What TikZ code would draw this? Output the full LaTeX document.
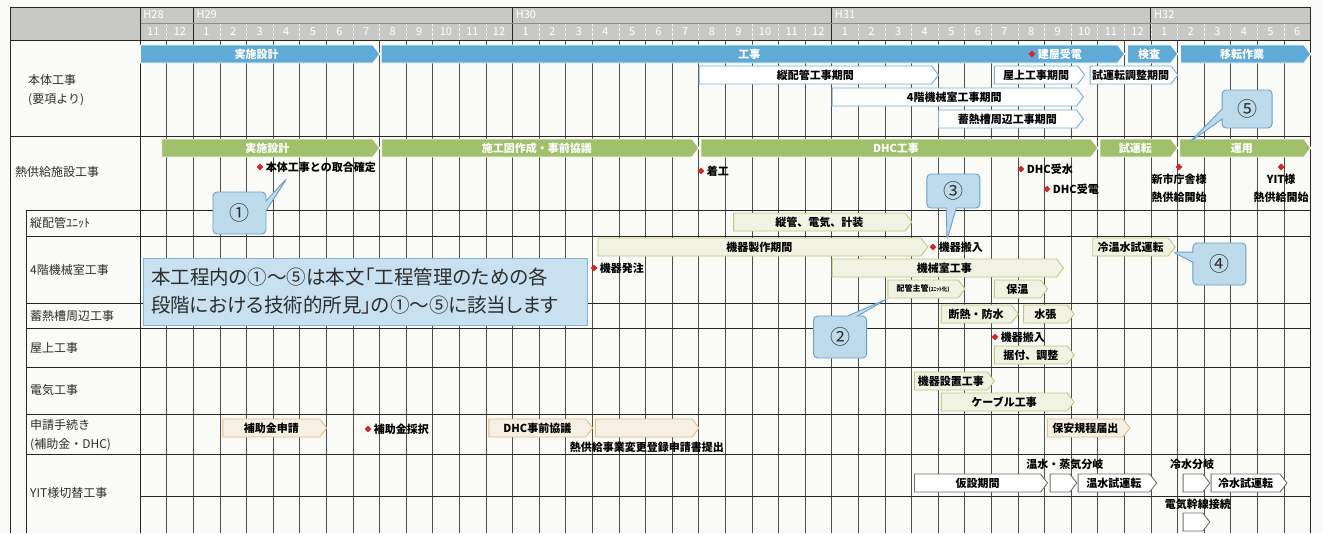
\documentclass[tikz,border=0pt]{standalone}
\usepackage{fontspec}
\setmainfont{Noto Sans CJK JP}
\usetikzlibrary{shapes.symbols,shapes.geometric,shapes.callouts,positioning}

\definecolor{paper}{RGB}{250,250,247}
\definecolor{headgray}{RGB}{200,200,198}
\definecolor{hontaiblue}{RGB}{96,170,215}
\definecolor{outblue}{RGB}{120,175,215}
\definecolor{netsugreen}{RGB}{160,192,108}
\definecolor{palegreen}{RGB}{242,242,226}
\definecolor{edgegreen}{RGB}{188,202,128}
\definecolor{paleorange}{RGB}{246,240,228}
\definecolor{edgeorange}{RGB}{226,188,128}
\definecolor{edgegray}{RGB}{110,110,110}
\definecolor{msred}{RGB}{210,40,40}
\definecolor{calloutfill}{RGB}{190,219,235}
\definecolor{calloutedge}{RGB}{105,160,200}
\definecolor{notefill}{RGB}{200,224,240}
\definecolor{textgray}{RGB}{45,45,45}

\tikzset{
  bar/.style={signal, signal to=east, signal pointer angle=105,
    minimum height=18pt, inner sep=0pt, line width=0.9pt,
    font=\fontsize{11}{11}\selectfont\bfseries},
  bluebar/.style={bar, fill=hontaiblue, draw=white, text=white},
  blueline/.style={bar, fill=white, draw=outblue, text=black},
  greenbar/.style={bar, fill=netsugreen, draw=white, text=white},
  greenline/.style={bar, fill=palegreen, draw=edgegreen, text=black},
  orangeline/.style={bar, fill=paleorange, draw=edgeorange, text=black},
  grayline/.style={bar, fill=white, draw=edgegray, text=black},
  milestone/.style={diamond, fill=msred, inner sep=0pt, minimum size=7pt},
  mstext/.style={font=\fontsize{11}{11}\selectfont\bfseries, inner sep=1pt},
  rowlabel/.style={anchor=west, align=left, font=\fontsize{12}{19}\selectfont,
    text=textgray, inner sep=0pt},
  headlabel/.style={text=white, font=\fontsize{11}{11}\selectfont, inner sep=0pt},
  gridline/.style={black!70, line width=0.5pt},
  rowline/.style={black!85, line width=0.9pt},
  callnum/.style={rectangle callout, rounded corners=4pt, fill=calloutfill,
    draw=calloutedge, line width=0.9pt, minimum width=53pt, minimum height=42pt,
    callout pointer width=10pt, font=\fontsize{20}{20}\selectfont, text=textgray},
  notebox/.style={rectangle, fill=notefill, draw=calloutedge!80, line width=1pt,
    minimum width=444pt, minimum height=67pt, align=left, text width=428pt,
    font=\fontsize{19.5}{28}\selectfont\addfontfeatures{RawFeature=+palt},
    text=textgray},
}

% name, style, first column, last column, row y, text
\newcommand{\taskbar}[6]{%
  \node[#2, anchor=west, minimum width={(#4-#3)*26.6pt}] (#1) at (#3,#5) {#6};}

\begin{document}
\begin{tikzpicture}[x=26.6pt, y=-1pt]
  \fill[paper] (-5.263,0) rectangle (44.474,533);
  \useasboundingbox (-5.263,0) rectangle (44.474,533);

  % header
  \fill[headgray] (-4.887,7) rectangle (44,40);
  \foreach \i in {1,...,43}
    \draw[white, densely dashed, line width=0.5pt] (\i,23) -- (\i,40);
  \foreach \i in {0,...,43}{
    \pgfmathtruncatemacro\mon{mod(\i+10,12)+1}
    \node[headlabel] (mon\i) at (\i+0.5,32) {\mon};
  }
  \foreach \yr/\col in {H28/0,H29/2,H30/14,H31/26,H32/38}
    \node[headlabel, anchor=west] (\yr) at (\col+0.12,15) {\yr};

  % grid
  \foreach \i in {1,...,43}
    \draw[gridline] (\i,40) -- (\i,533);
  \foreach \i in {2,14,26,38}
    \draw[rowline] (\i,7) -- (\i,40);
  \draw[black!45] (0,23) -- (44,23);
  \foreach \y in {7,40,136}
    \draw[rowline] (-4.887,\y) -- (44,\y);
  \foreach \y in {210,236,303,328,367,414,454}
    \draw[rowline] (-4.286,\y) -- (44,\y);
  \draw[rowline] (0,496) -- (44,496);
  \draw[rowline] (-4.887,7) -- (-4.887,533);
  \draw[rowline] (-4.286,210) -- (-4.286,533);
  \draw[rowline] (0,7) -- (0,533);
  \draw[rowline] (44,7) -- (44,533);

  % row labels
  \node[rowlabel] (r1) at (-4.21,90) {本体工事\\(要項より)};
  \node[rowlabel] (r2) at (-4.70,172) {熱供給施設工事};
  \node[rowlabel] (r3) at (-4.135,223) {縦配管ﾕﾆｯﾄ};
  \node[rowlabel] (r4) at (-4.135,270) {4階機械室工事};
  \node[rowlabel] (r5) at (-4.135,316) {蓄熱槽周辺工事};
  \node[rowlabel] (r6) at (-4.135,348) {屋上工事};
  \node[rowlabel] (r7) at (-4.135,390) {電気工事};
  \node[rowlabel] (r8) at (-4.135,435) {申請手続き\\(補助金・DHC)};
  \node[rowlabel] (r9) at (-4.135,493) {YIT様切替工事};

  % 本体工事
  \taskbar{b1}{bluebar}{0}{9}{54}{実施設計}
  \taskbar{b2}{bluebar}{9.05}{37}{54}{工事}
  \taskbar{b3}{bluebar}{37.1}{39}{54}{検査}
  \taskbar{b4}{bluebar}{39.1}{44}{54}{移転作業}
  \taskbar{o1}{blueline}{21}{30}{75}{縦配管工事期間}
  \taskbar{o2}{blueline}{32.1}{35.5}{75}{屋上工事期間}
  \taskbar{o3}{blueline}{35.7}{39}{75}{試運転調整期間}
  \taskbar{o4}{blueline}{26}{35.45}{97}{4階機械室工事期間}
  \taskbar{o5}{blueline}{30}{35.45}{119}{蓄熱槽周辺工事期間}
  \node[milestone] (ms0) at (33.53,54) {};
  \node[mstext, text=white, right=1pt of ms0] (ms0t) {建屋受電};

  % 熱供給施設工事
  \taskbar{g1}{greenbar}{0.8}{9}{148}{実施設計}
  \taskbar{g2}{greenbar}{9.07}{21}{148}{施工図作成・事前協議}
  \taskbar{g3}{greenbar}{21.07}{36}{148}{DHC工事}
  \taskbar{g4}{greenbar}{36.07}{39}{148}{試運転}
  \taskbar{g5}{greenbar}{39.07}{44}{148}{運用}
  \node[milestone] (ms1) at (4.51,167) {};
  \node[mstext, right=1pt of ms1] (ms1t) {本体工事との取合確定};
  \node[milestone] (ms2) at (21.09,171) {};
  \node[mstext, right=1pt of ms2] (ms2t) {着工};
  \node[milestone] (ms3) at (33.12,169) {};
  \node[mstext, right=1pt of ms3] (ms3t) {DHC受水};
  \node[milestone] (ms4) at (34.1,189) {};
  \node[mstext, right=1pt of ms4] (ms4t) {DHC受電};
  \node[milestone] (ms5) at (39.06,167) {};
  \node[mstext, align=center, font=\fontsize{11}{18}\selectfont\bfseries,
    below=2pt of ms5] (ms5t) {新市庁舎様\\熱供給開始};
  \node[milestone] (ms6) at (42.9,167) {};
  \node[mstext, align=center, font=\fontsize{11}{18}\selectfont\bfseries,
    below=2pt of ms6] (ms6t) {YIT様\\熱供給開始};

  % 縦配管ユニット, 4階機械室工事
  \taskbar{l1}{greenline}{22.3}{29}{222}{縦管、電気、計装}
  \taskbar{l2}{greenline}{17.2}{29.6}{247}{機器製作期間}
  \taskbar{l3}{greenline}{35.8}{38.9}{247}{冷温水試運転}
  \taskbar{l4}{greenline}{26}{34.7}{268}{機械室工事}
  \taskbar{l5}{greenline}{28.1}{31}{289}{\fontsize{8}{8}\selectfont 配管主管\fontsize{5.5}{6}\selectfont(ﾕﾆｯﾄ化)}
  \taskbar{l6}{greenline}{32.1}{34.1}{289}{保温}
  \node[milestone] (ms7) at (29.81,247) {};
  \node[mstext, right=1pt of ms7] (ms7t) {機器搬入};
  \node[milestone] (ms8) at (17.07,268) {};
  \node[mstext, right=1pt of ms8] (ms8t) {機器発注};

  % 蓄熱槽周辺工事, 屋上工事, 電気工事
  \taskbar{l7}{greenline}{30.1}{33}{314}{断熱・防水}
  \taskbar{l8}{greenline}{33.2}{35.1}{314}{水張}
  \node[milestone] (ms9) at (32.14,337) {};
  \node[mstext, right=1pt of ms9] (ms9t) {機器搬入};
  \taskbar{l9}{greenline}{32.1}{35.1}{355}{据付、調整}
  \taskbar{l10}{greenline}{29.1}{32.1}{381}{機器設置工事}
  \taskbar{l11}{greenline}{30.1}{35.1}{402}{ケーブル工事}

  % 申請手続き
  \taskbar{p1}{orangeline}{3.1}{7}{428}{補助金申請}
  \taskbar{p2}{orangeline}{13.1}{17}{428}{DHC事前協議}
  \taskbar{p3}{orangeline}{17.1}{21}{428}{}
  \taskbar{p4}{orangeline}{34.1}{37.2}{428}{保安規程届出}
  \node[milestone] (ms10) at (8.57,429) {};
  \node[mstext, right=1pt of ms10] (ms10t) {補助金採択};
  \node[mstext] (p3t) at (19.06,447) {熱供給事業変更登録申請書提出};

  % YIT様切替工事
  \taskbar{y1}{grayline}{29.1}{34.1}{483}{仮設期間}
  \taskbar{y2}{grayline}{34.2}{35.2}{483}{}
  \taskbar{y3}{grayline}{35.25}{38.2}{483}{温水試運転}
  \taskbar{y4}{grayline}{39.2}{40.2}{483}{}
  \taskbar{y5}{grayline}{40.25}{43.1}{483}{冷水試運転}
  \taskbar{y6}{grayline}{39.2}{40.2}{522}{}
  \node[mstext] (y2t) at (34.77,464) {温水・蒸気分岐};
  \node[mstext] (y4t) at (39.55,464) {冷水分岐};
  \node[mstext] (y6t) at (39.77,504) {電気幹線接続};

  % callouts
  \coordinate (tip1) at (5.53,178);
  \coordinate (tip2) at (28.08,299);
  \coordinate (tip3) at (30.34,240);
  \coordinate (tip4) at (38.83,252);
  \coordinate (tip5) at (39.47,142);
  \node[callnum, callout absolute pointer={(tip1)}] (c1) at (3.74,213) {①};
  \node[callnum, callout absolute pointer={(tip2)}] (c2) at (26.32,337) {②};
  \node[callnum, minimum height=34pt, callout absolute pointer={(tip3)}] (c3) at (30.58,191) {③};
  \node[callnum, callout absolute pointer={(tip4)}] (c4) at (40.58,264) {④};
  \node[callnum, minimum width=50pt, minimum height=38pt, callout absolute pointer={(tip5)}] (c5) at (41.62,109) {⑤};

  \node[notebox] (note) at (8.46,291.5)
    {本工程内の①～⑤は本文「工程管理のための各\\段階における技術的所見」の①～⑤に該当します};
\end{tikzpicture}
\end{document}
